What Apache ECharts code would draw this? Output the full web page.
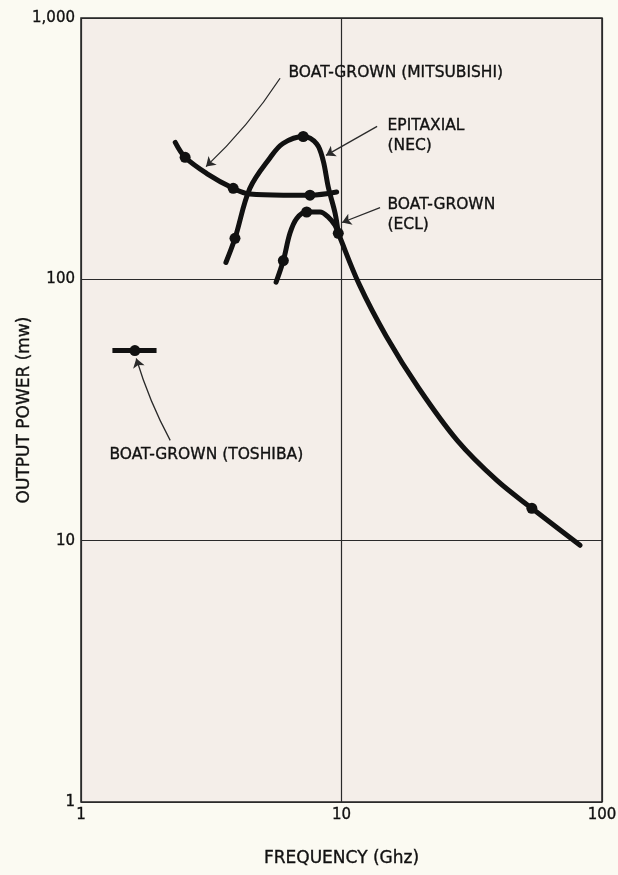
<!DOCTYPE html>
<html>
<head>
<meta charset="utf-8">
<script src="https://cdn.jsdelivr.net/npm/echarts@6/dist/echarts.min.js"></script>
<style>
  html, body { margin: 0; padding: 0; background: #fbfaf2; }
  #chart { width: 618px; height: 875px; }
</style>
</head>
<body>
<div id="chart"></div>
<script>
// Output power vs. frequency for GaAs FET devices (log-log)
const mitsuFreq = [2.30, 2.51, 3.04, 3.84, 4.45, 5.98, 7.57, 9.58];
const mitsuPow  = [334, 293, 254, 223, 212, 210, 210, 216];
const mitsuDots = [1, 3, 6];

const necFreq = [3.60, 3.90, 4.45, 5.32, 5.96, 7.13, 8.03, 8.50, 8.90, 9.45, 9.72];
const necPow  = [116, 143.5, 223, 292, 331, 352, 330, 285, 225, 179, 150];
const necDots = [1, 5];

const eclFreq = [5.61, 5.98, 6.34, 6.73, 7.35, 8.27, 8.90, 9.44, 9.72, 11.71, 14.85, 19.8, 27.8, 39.5, 53.8, 82.4];
const eclPow  = [97.5, 118, 150, 171, 181, 181, 173, 161, 150, 95.4, 60.6, 38.3, 24.2, 17.0, 13.3, 9.6];
const eclDots = [1, 4, 8, 14];

const toshFreq = [1.32, 1.61, 1.95];
const toshPow  = [53.4, 53.4, 53.4];
const toshDots = [1];

const xTicks = [1, 10, 100];
const yTicks = [1, 10, 100, 1000];

// Callout texts: [text, freq, power]
const labelTexts = [
  ['BOAT-GROWN (MITSUBISHI)', 6.23, 614],
  ['EPITAXIAL\n(NEC)', 14.95, 355],
  ['BOAT-GROWN\n(ECL)', 14.95, 176],
  ['BOAT-GROWN (TOSHIBA)', 1.28, 21.2]
];
// Callout arrows: [fromFreq, fromPow, toFreq, toPow, curveness]
const arrows = [
  [5.81, 588, 3.02, 270, 0.06],
  [13.7, 385, 8.72, 298, 0.0],
  [14.06, 188, 10.05, 165, 0.0],
  [2.20, 24.2, 1.63, 49.8, 0.05]
];

const zip = (xs, ys) => xs.map((x, i) => [x, ys[i]]);
const pick = (xs, ys, idx) => idx.map(i => [xs[i], ys[i]]);

const INK = '#111111';
const FONT = 'DejaVu Sans';

function curve(name, xs, ys) {
  return {
    name, type: 'line', data: zip(xs, ys),
    smooth: 0.35, showSymbol: false, silent: true,
    lineStyle: { color: INK, width: 5, cap: 'round', join: 'round' },
    z: 3
  };
}

const dots = []
  .concat(pick(mitsuFreq, mitsuPow, mitsuDots))
  .concat(pick(necFreq, necPow, necDots))
  .concat(pick(eclFreq, eclPow, eclDots))
  .concat(pick(toshFreq, toshPow, toshDots));

const textStyle = {
  fontFamily: FONT, color: INK,
  textBorderColor: INK, textBorderWidth: 0.35
};

const chart = echarts.init(document.getElementById('chart'));
chart.setOption({
  backgroundColor: '#fbfaf2',
  animation: false,
  grid: {
    left: 81, right: 16, top: 18, bottom: 73,
    containLabel: false, outerBoundsMode: 'none',
    show: true, backgroundColor: '#f4eee9',
    borderColor: '#222', borderWidth: 1.5
  },
  xAxis: {
    type: 'log', logBase: 10, min: 1, max: 100, interval: 1,
    name: 'FREQUENCY (Ghz)', nameLocation: 'middle', nameGap: 48,
    nameMoveOverlap: false,
    nameTextStyle: Object.assign({ fontSize: 17 }, textStyle),
    axisLine: { show: false }, axisTick: { show: false },
    axisLabel: Object.assign({
      margin: 6, fontSize: 15,
      formatter: v => xTicks.includes(Math.round(v)) ? String(Math.round(v)) : ''
    }, textStyle),
    splitLine: { show: true, lineStyle: { color: '#2a2a2a', width: 1.2 } },
    minorSplitLine: { show: false }
  },
  yAxis: {
    type: 'log', logBase: 10, min: 1, max: 1000, interval: 1,
    name: 'OUTPUT POWER (mw)', nameLocation: 'middle', nameGap: 48, nameRotate: 90,
    nameMoveOverlap: false,
    nameTextStyle: Object.assign({ fontSize: 17 }, textStyle),
    axisLine: { show: false }, axisTick: { show: false },
    axisLabel: Object.assign({
      margin: 6, fontSize: 15,
      formatter: v => {
        const r = Math.round(v);
        return yTicks.includes(r) ? r.toLocaleString('en-US') : '';
      }
    }, textStyle),
    splitLine: { show: true, lineStyle: { color: '#2a2a2a', width: 1.2 } }
  },
  series: [
    curve('Boat-grown (Mitsubishi)', mitsuFreq, mitsuPow),
    curve('Epitaxial (NEC)', necFreq, necPow),
    curve('Boat-grown (ECL)', eclFreq, eclPow),
    {
      name: 'Boat-grown (Toshiba)', type: 'line', data: zip(toshFreq, toshPow),
      showSymbol: false, silent: true,
      lineStyle: { color: INK, width: 5 }, z: 3
    },
    {
      name: 'points', type: 'scatter', data: dots, symbolSize: 11,
      itemStyle: { color: INK, opacity: 1 }, silent: true, z: 4
    },
    {
      name: 'callouts', type: 'lines', coordinateSystem: 'cartesian2d',
      polyline: false, silent: true, z: 5,
      symbol: ['none', 'arrow'], symbolSize: 9,
      data: arrows.map(a => ({
        coords: [[a[0], a[1]], [a[2], a[3]]],
        lineStyle: { curveness: a[4] }
      })),
      lineStyle: { color: '#2a2a2a', width: 1.3, opacity: 1 }
    },
    {
      name: 'labels', type: 'scatter', silent: true, z: 6,
      symbolSize: 1, itemStyle: { color: 'rgba(0,0,0,0)', opacity: 1 },
      data: labelTexts.map(t => ({ value: [t[1], t[2]], name: t[0] })),
      label: Object.assign({
        show: true, position: 'right', distance: 0, opacity: 1,
        formatter: p => p.name,
        fontSize: 15.5, lineHeight: 20,
        align: 'left', verticalAlign: 'middle'
      }, textStyle)
    }
  ]
});
</script>
</body>
</html>
